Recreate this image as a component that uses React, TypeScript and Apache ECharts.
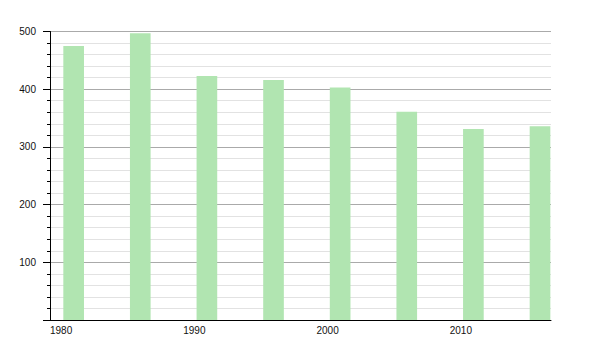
import React, { useEffect, useRef } from "react";
import * as echarts from "echarts";

const years = [1981, 1986, 1991, 1996, 2001, 2006, 2011, 2016];
const population = [475, 497, 423, 416, 403, 361, 331, 336];
const xTickLabels = ["1980", "1990", "2000", "2010"];
const yTickLabels = ["100", "200", "300", "400", "500"];

const BAR_SPAN = 1.55;

export default function App() {
  const ref = useRef<HTMLDivElement>(null);
  useEffect(() => {
    const chart = echarts.init(ref.current!, null, { renderer: "svg" });
    chart.setOption({
      animation: false,
      grid: { left: 50, right: 49, top: 31.5, bottom: 30, containLabel: false },
      xAxis: {
        type: "value",
        min: 1980,
        max: 2017.6,
        interval: 10,
        axisLine: { show: true, onZero: false, lineStyle: { color: "#000", width: 1 } },
        axisTick: { show: false },
        splitLine: { show: false },
        axisLabel: {
          margin: 5,
          align: "left",
          color: "#111",
          fontFamily: "Liberation Sans, Arial, sans-serif",
          fontSize: 10,
          showMaxLabel: false,
          formatter: (v: number) => {
            const s = String(Math.round(v));
            return Math.abs(v - Math.round(v)) < 1e-6 && xTickLabels.includes(s) ? s : "";
          },
        },
      },
      yAxis: {
        type: "value",
        min: 0,
        max: 500,
        interval: 100,
        axisLine: { show: true, lineStyle: { color: "#000", width: 1 } },
        axisTick: { show: true, length: 7, lineStyle: { color: "#000" } },
        minorTick: { show: true, splitNumber: 5, length: 3, lineStyle: { color: "#000" } },
        splitLine: { show: true, lineStyle: { color: "#aaaaaa", width: 1 } },
        minorSplitLine: { show: true, lineStyle: { color: "#e2e2e2", width: 1 } },
        axisLabel: {
          margin: 14,
          color: "#111",
          fontFamily: "Liberation Sans, Arial, sans-serif",
          fontSize: 10,
          formatter: (v: number) => (yTickLabels.includes(String(v)) ? String(v) : ""),
        },
      },
      series: [
        {
          type: "custom",
          data: years.map((y, i) => [y, population[i]]),
          encode: { x: 0, y: 1 },
          renderItem: (params: any, api: any) => {
            const yr = api.value(0);
            const v = api.value(1);
            const p0 = api.coord([yr, v]);
            const p1 = api.coord([yr + BAR_SPAN, 0]);
            return {
              type: "rect",
              shape: { x: p0[0], y: p0[1], width: p1[0] - p0[0], height: p1[1] - p0[1] },
              style: { fill: "#b1e5b1" },
            };
          },
        },
      ],
    });
    return () => chart.dispose();
  }, []);
  return (
    <div
      ref={ref}
      style={{ position: "fixed", left: 0, top: 0, width: 600, height: 350, background: "#fff" }}
    />
  );
}
